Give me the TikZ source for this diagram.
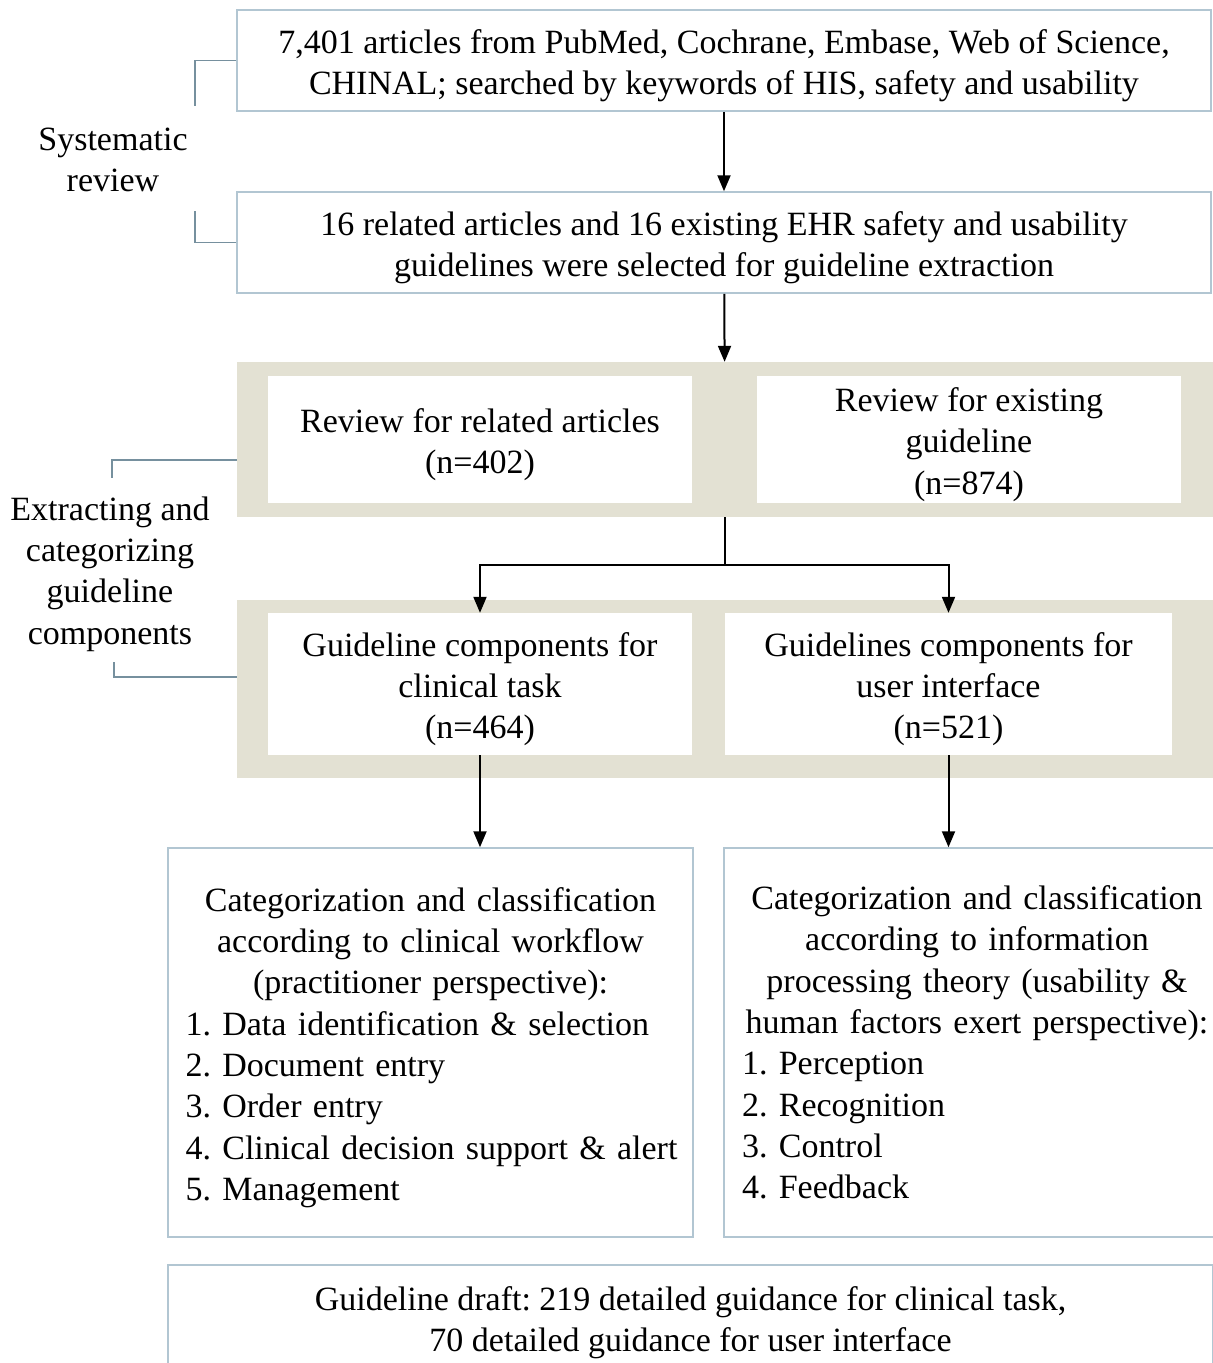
\documentclass[tikz,border=0pt]{standalone}
\usepackage{fontspec}
\setmainfont{Liberation Serif}
\usetikzlibrary{
    arrows.meta,
    calc,
    positioning
}
\frenchspacing
\definecolor{bandbeige}{RGB}{227,225,211}
\definecolor{boxline}{RGB}{178,198,210}
\definecolor{brackline}{RGB}{118,144,158}
\newcommand{\topstrut}{\rule{0pt}{34pt}}
\tikzset{
    box/.style={draw=boxline, line width=1.5pt, fill=white, align=center, inner sep=0pt},
    band/.style={fill=bandbeige, inner sep=0pt},
    inbox/.style={fill=white, align=center, inner sep=0pt},
    arr/.style={line width=2pt, -{Triangle[width=13pt,length=16pt]}},
    brk/.style={draw=brackline, line width=1.6pt}
}

\begin{document}
\begin{tikzpicture}[x=1pt, y=-1pt, font=\fontsize{34}{41.3}\selectfont]
    \useasboundingbox (0,0) rectangle (1213,1363);

    % systematic review
    \node[box, minimum width=974pt, minimum height=101pt] (src) at (724, 60.5)
        {\topstrut 7,401 articles from PubMed, Cochrane, Embase, Web of Science,\\CHINAL; searched by keywords of HIS, safety and usability};
    \node[box, minimum width=974pt, minimum height=101pt] (sel) at (724, 242.5)
        {\topstrut 16 related articles and 16 existing EHR safety and usability\\guidelines were selected for guideline extraction};
    \node[align=center] (sysrev) at (113, 160) {Systematic\\review};

    % extracting and categorizing
    \node[band, minimum width=976pt, minimum height=155pt] (bandA) at (725, 439.5) {};
    \node[inbox, minimum width=424pt, minimum height=127pt] (revA) at (480, 439.5)
        {\topstrut Review for related articles\\(n=402)};
    \node[inbox, minimum width=424pt, minimum height=127pt] (revB) at (969, 439.5)
        {\topstrut Review for existing\\guideline\\(n=874)};

    \node[band, minimum width=976pt, minimum height=178pt] (bandB) at (725, 689) {};
    \node[inbox, minimum width=424pt, minimum height=142pt] (cmpA) at (480, 684)
        {\topstrut Guideline components for\\clinical task\\(n=464)};
    \node[inbox, minimum width=447pt, minimum height=142pt] (cmpB) at (948.5, 684)
        {\topstrut Guidelines components for\\user interface\\(n=521)};
    \node[align=center] (extr) at (110, 574)
        {Extracting and\\categorizing\\guideline\\components};

    % categorization
    \node[box, align=left, text width=490pt, inner xsep=17.5pt, minimum width=525pt, minimum height=389pt] (catA) at (430.5, 1042.5)
        {{\centering\topstrut Categorization and classification\\according to clinical workflow\\(practitioner perspective):\par}
        1. Data identification \& selection\\
        2. Document entry\\
        3. Order entry\\
        \mbox{4. Clinical decision support \& alert}\\
        5. Management};
    \node[box, align=left, text width=470pt, inner xsep=18pt, minimum width=489pt, minimum height=389pt] (catB) at (977, 1042.5)
        {{\centering Categorization and classification\\according to information\\processing theory (usability \&\\human factors exert perspective):\par}
        1. Perception\\
        2. Recognition\\
        3. Control\\
        4. Feedback};

    \node[box, minimum width=1045pt, minimum height=105pt] (draft) at (690.5, 1317.5)
        {\topstrut Guideline draft: 219 detailed guidance for clinical task,\\70 detailed guidance for user interface};

    % connectors
    \draw[arr] (src) -- (sel);
    \draw[arr] (sel) -- (bandA);
    \draw[line width=2pt] (bandA.south) -- ++(0,48) coordinate (fork);
    \draw[arr] (fork) -| (cmpA.north);
    \draw[arr] (fork) -| (cmpB.north);
    \draw[arr] (cmpA) -- (cmpA |- catA.north);
    \draw[arr] (cmpB) -- (cmpB |- catB.north);

    % brackets
    \draw[brk] (src.west) -| +(-41,45);
    \draw[brk] (sel.west) -| +(-41,-32);
    \draw[brk] ([yshift=-20.5pt]bandA.west) -| +(-125,18);
    \draw[brk] ([yshift=12pt]bandB.west) -| +(-123,-15);
\end{tikzpicture}
\end{document}
